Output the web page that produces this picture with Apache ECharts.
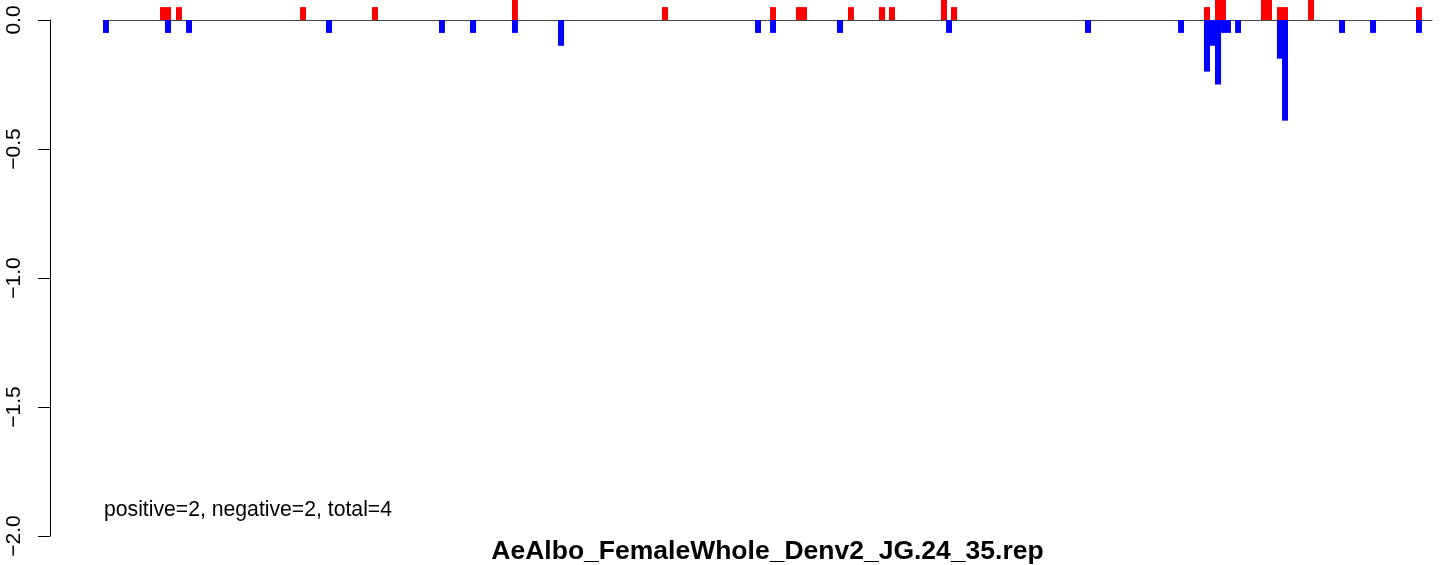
<!DOCTYPE html>
<html>
<head>
<meta charset="utf-8">
<script src="https://cdn.jsdelivr.net/npm/echarts@6/dist/echarts.min.js"></script>
<style>
html,body{margin:0;padding:0;background:#fff;}
#chart{width:1444px;height:565px;}
</style>
</head>
<body>
<div id="chart"></div>
<script>
// Genome length (x range, nt)
const genomeLength = 10723;

// Positive-strand (red) marks: start, end, value
const posStart = [460, 589, 1590, 2170, 3300, 4510, 5382, 5591, 6011, 6261, 6342, 6761, 6842, 8883, 8972, 9343, 9472, 9723, 10594];
const posEnd   = [549, 637, 1638, 2219, 3348, 4559, 5430, 5680, 6059, 6310, 6390, 6810, 6891, 8932, 9061, 9432, 9561, 9771, 10642];
const posValue = [0.05, 0.05, 0.05, 0.05, 0.1, 0.05, 0.05, 0.05, 0.05, 0.05, 0.05, 0.1, 0.05, 0.05, 0.1, 0.1, 0.05, 0.1, 0.05];

// Negative-strand (blue) marks: start, end, value
const negStart = [0, 500, 670, 1799, 2711, 2961, 3300, 3671, 5261, 5382, 5922, 6802, 7923, 8674, 8883, 8932, 8972, 9021, 9134, 9472, 9513, 9973, 10223, 10594];
const negEnd   = [48, 549, 718, 1848, 2759, 3010, 3348, 3720, 5309, 5430, 5971, 6850, 7972, 8722, 8932, 8972, 9021, 9101, 9182, 9513, 9561, 10021, 10271, 10642];
const negValue = [-0.05, -0.05, -0.05, -0.05, -0.05, -0.05, -0.05, -0.1, -0.05, -0.05, -0.05, -0.05, -0.05, -0.05, -0.2, -0.1, -0.25, -0.05, -0.05, -0.15, -0.39, -0.05, -0.05, -0.05];

// Y axis ticks
const yMin = -2.0, yMax = 0.0, yStep = 0.5;

// Texts
const summaryText = 'positive=2, negative=2, total=4';
const titleText = 'AeAlbo_FemaleWhole_Denv2_JG.24_35.rep';

const FONT = '"Liberation Sans", Arial, Helvetica, sans-serif';

function zip(a, b, c) { return a.map((v, i) => [v, b[i], c[i]]); }

function makeRender(color) {
  return function (params, api) {
    const s = api.value(0), e = api.value(1), v = api.value(2);
    const p0 = api.coord([s, 0]);
    const p1 = api.coord([e, v]);
    return {
      type: 'rect',
      shape: {
        x: p0[0],
        y: Math.min(p0[1], p1[1]),
        width: p1[0] - p0[0],
        height: Math.abs(p1[1] - p0[1])
      },
      style: { fill: color }
    };
  };
}

const chart = echarts.init(document.getElementById('chart'), null, { renderer: 'canvas' });
chart.setOption({
  animation: false,
  backgroundColor: '#ffffff',
  grid: { left: 103, right: 12, top: 20, bottom: 29, containLabel: false },
  xAxis: {
    type: 'value', min: 0, max: genomeLength,
    axisLine: { show: true, onZero: true, lineStyle: { color: '#444444', width: 1 } },
    axisTick: { show: false }, axisLabel: { show: false }, splitLine: { show: false }
  },
  yAxis: {
    type: 'value', min: yMin, max: yMax, interval: yStep,
    offset: 53,
    axisLine: { show: true, onZero: false, lineStyle: { color: '#000', width: 1 } },
    axisTick: { show: true, length: 12, lineStyle: { color: '#000', width: 1 } },
    axisLabel: {
      rotate: 90, margin: 25, color: '#000', fontSize: 21, fontFamily: FONT,
      formatter: v => (v < 0 ? '\u2212' : '') + Math.abs(v).toFixed(1)
    },
    splitLine: { show: false }
  },
  series: [
    { type: 'custom', name: 'positive', renderItem: makeRender('#ff0000'),
      data: zip(posStart, posEnd, posValue), encode: { x: [0, 1], y: 2 }, clip: false, z: 3 },
    { type: 'custom', name: 'negative', renderItem: makeRender('#0000ff'),
      data: zip(negStart, negEnd, negValue), encode: { x: [0, 1], y: 2 }, clip: false, z: 3 }
  ],
  graphic: [
    { type: 'text', left: 104, top: 500, style: { text: summaryText, fontSize: 21.2, fontFamily: FONT, fill: '#000' } },
    { type: 'text', x: 767.5, y: 552, style: { text: titleText, fontSize: 26.5, fontWeight: 'bold', fontFamily: FONT, fill: '#000', align: 'center', verticalAlign: 'middle' } }
  ]
});
</script>
</body>
</html>
